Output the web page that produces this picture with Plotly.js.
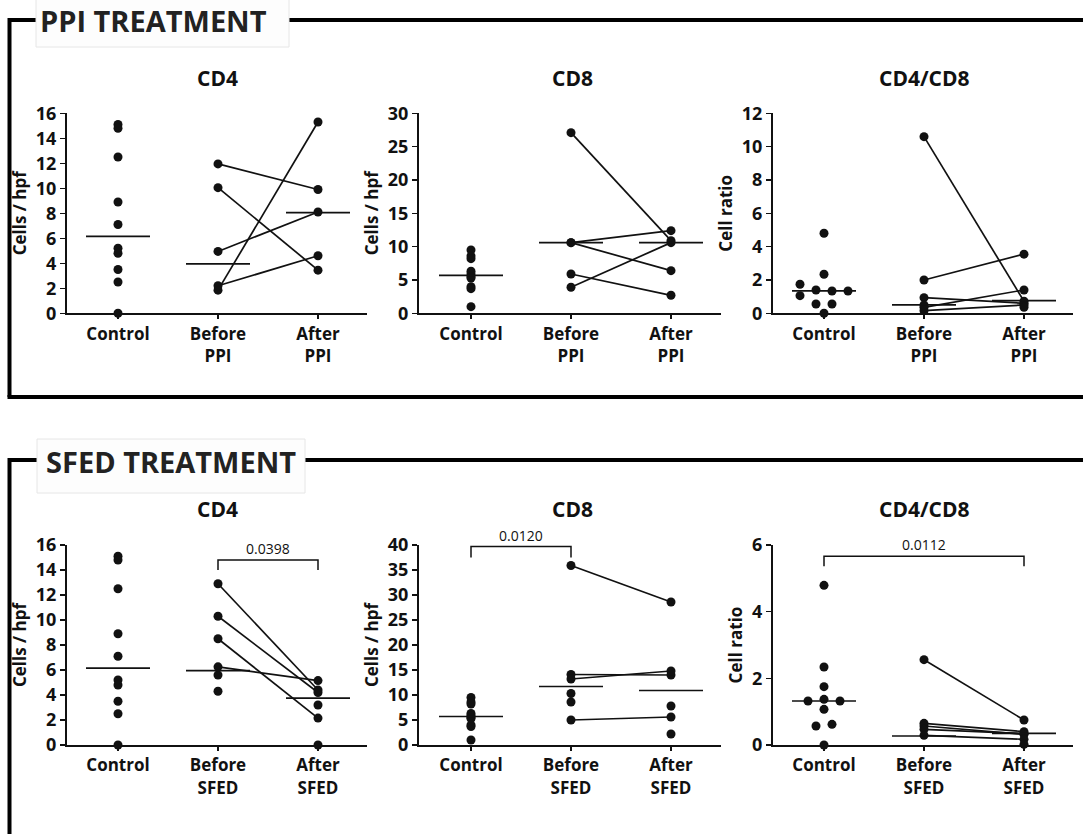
<!DOCTYPE html>
<html><head><meta charset="utf-8">
<script src="https://cdn.plot.ly/plotly-3.0.1.min.js"></script>
<style>html,body{margin:0;padding:0;background:#fff;}#chart{width:1083px;height:834px;}</style>
</head><body><div id="chart"></div>
<script>
// ---------- DATA ----------
const sectionTitles = ["PPI TREATMENT", "SFED TREATMENT"];
const panelTitles = ["CD4", "CD8", "CD4/CD8"];
const yTitles = ["Cells / hpf", "Cells / hpf", "Cell ratio"];
const ppiCategories = ["Control", "Before<br>PPI", "After<br>PPI"];
const sfedCategories = ["Control", "Before<br>SFED", "After<br>SFED"];

// shared controls
const cd4Control = [15.1, 14.8, 12.5, 8.9, 7.1, 5.2, 4.8, 3.5, 2.5, 0];
const cd8Control = [9.5, 8.6, 8.2, 6.3, 5.9, 5.5, 5.3, 4.0, 3.7, 1.0];

// PPI CD4
const ppiCd4Before = [11.95, 10.05, 4.95, 1.85, 2.2];
const ppiCd4After  = [9.9, 3.45, 8.1, 15.3, 4.6];
const ppiCd4Medians = [6.15, 3.95, 8.05];

// PPI CD8
const ppiCd8Before = [27.1, 10.6, 10.6, 5.9, 3.9];
const ppiCd8After  = [10.9, 12.4, 6.4, 2.7, 10.6];
const ppiCd8Medians = [5.7, 10.6, 10.6];

// PPI CD4/CD8
const ppiRatioControl = [4.8, 2.34, 1.74, 1.06, 1.4, 1.34, 1.34, 0.56, 0.56, 0];
const ppiRatioControlJitter = [0, 0, -0.24, -0.24, -0.08, 0.08, 0.24, -0.08, 0.08, 0];
const ppiRatioBefore = [10.6, 2.0, 0.94, 0.36, 0.16];
const ppiRatioAfter  = [0.72, 3.55, 0.6, 1.4, 0.5];
const ppiRatioBeforeExtra = [0.5];
const ppiRatioAfterExtra = [0.36];
const ppiRatioMedians = [1.34, 0.5, 0.76];

// SFED CD4
const sfedCd4Before = [12.9, 10.3, 8.5, 6.25];
const sfedCd4After  = [4.4, 4.2, 2.15, 5.15];
const sfedCd4BeforeExtra = [5.6, 4.3];
const sfedCd4AfterExtra = [3.2, 0];
const sfedCd4Medians = [6.15, 5.95, 3.75];

// SFED CD8
const sfedCd8Before = [35.9, 14.1, 13.2, 5.0];
const sfedCd8After  = [28.6, 14.0, 14.8, 5.6];
const sfedCd8BeforeExtra = [10.3, 8.6];
const sfedCd8AfterExtra = [7.8, 2.2];
const sfedCd8Medians = [5.7, 11.7, 10.9];

// SFED CD4/CD8
const sfedRatioControl = [4.79, 2.34, 1.75, 1.32, 1.37, 1.32, 1.07, 0.57, 0.62, 0];
const sfedRatioControlJitter = [0, 0, 0, -0.16, 0, 0.16, 0, -0.08, 0.08, 0];
const sfedRatioBefore = [2.56, 0.65, 0.57, 0.47, 0.29];
const sfedRatioAfter  = [0.75, 0.4, 0.32, 0.34, 0.17];
const sfedRatioAfterExtra = [0.02];
const sfedRatioMedians = [1.32, 0.27, 0.35];

// significance brackets: [fromCat, toCat, topValue, endValue, label]
const sfedCd4Bracket = [1, 2, 14.8, 14.0, "0.0398"];
const sfedCd8Bracket = [0, 1, 39.7, 37.5, "0.0120"];
const sfedRatioBracket = [0, 2, 5.66, 5.36, "0.0112"];

// axis ranges
const yRanges = [[0,16],[0,30],[0,12],[0,16],[0,40],[0,6]];
const yDticks = [2,5,2,2,5,2];

// ---------- BUILD ----------
const W = 1083, H = 834;
const px = v => v / W, py = v => 1 - v / H;
const FONT = "Open Sans, Noto Sans, sans-serif";
const INK = "#111";
const MEDIAN_HALF = 0.32;

const panels = [
  {cats: ppiCategories, control: cd4Control, before: ppiCd4Before, after: ppiCd4After, medians: ppiCd4Medians},
  {cats: ppiCategories, control: cd8Control, before: ppiCd8Before, after: ppiCd8After, medians: ppiCd8Medians},
  {cats: ppiCategories, control: ppiRatioControl, jitter: ppiRatioControlJitter, before: ppiRatioBefore, after: ppiRatioAfter,
   beforeExtra: ppiRatioBeforeExtra, afterExtra: ppiRatioAfterExtra, medians: ppiRatioMedians},
  {cats: sfedCategories, control: cd4Control, before: sfedCd4Before, after: sfedCd4After,
   beforeExtra: sfedCd4BeforeExtra, afterExtra: sfedCd4AfterExtra, medians: sfedCd4Medians, bracket: sfedCd4Bracket},
  {cats: sfedCategories, control: cd8Control, before: sfedCd8Before, after: sfedCd8After,
   beforeExtra: sfedCd8BeforeExtra, afterExtra: sfedCd8AfterExtra, medians: sfedCd8Medians, bracket: sfedCd8Bracket},
  {cats: sfedCategories, control: sfedRatioControl, jitter: sfedRatioControlJitter, before: sfedRatioBefore, after: sfedRatioAfter,
   afterExtra: sfedRatioAfterExtra, medians: sfedRatioMedians, bracket: sfedRatioBracket}
];

// pixel layout of plot areas
const xDomPx = [[67,367],[419,721],[773,1073]];
const xRanges = [[-0.51,2.49],[-0.52,2.5],[-0.51,2.49]];
const yDomPx = [[113.3,313.3],[545,745]];

const traces = [];
const layout = {
  width: W, height: H,
  margin: {l:0, r:0, t:0, b:0},
  paper_bgcolor: "#fff", plot_bgcolor: "rgba(0,0,0,0)",
  showlegend: false,
  font: {family: FONT, color: INK},
  shapes: [], annotations: []
};

const mk = {color: INK, size: 9};
const ln = {color: INK, width: 1.7};

panels.forEach((p, i) => {
  const n = i + 1;
  const xa = n === 1 ? "x" : "x" + n, ya = n === 1 ? "y" : "y" + n;
  const col = i % 3, row = Math.floor(i / 3);
  // control
  traces.push({type: "scatter", mode: "markers", xaxis: xa, yaxis: ya, cliponaxis: false,
    x: p.control.map((v, k) => 0 + (p.jitter ? p.jitter[k] : 0)), y: p.control, marker: mk, hoverinfo: "y"});
  // paired lines
  const px2 = [], py2 = [];
  p.before.forEach((b, k) => { px2.push(1, 2, null); py2.push(b, p.after[k], null); });
  traces.push({type: "scatter", mode: "lines+markers", xaxis: xa, yaxis: ya, cliponaxis: false,
    x: px2, y: py2, marker: mk, line: ln, connectgaps: false, hoverinfo: "y"});
  // unpaired
  const ex = [], ey = [];
  (p.beforeExtra || []).forEach(v => { ex.push(1); ey.push(v); });
  (p.afterExtra || []).forEach(v => { ex.push(2); ey.push(v); });
  if (ex.length) traces.push({type: "scatter", mode: "markers", xaxis: xa, yaxis: ya, cliponaxis: false,
    x: ex, y: ey, marker: mk, hoverinfo: "y"});
  // medians
  const mx = [], my = [];
  p.medians.forEach((m, c) => { mx.push(c - MEDIAN_HALF, c + MEDIAN_HALF, null); my.push(m, m, null); });
  traces.push({type: "scatter", mode: "lines", xaxis: xa, yaxis: ya, cliponaxis: false,
    x: mx, y: my, line: {color: INK, width: 1.7}, connectgaps: false, hoverinfo: "skip"});
  // bracket
  if (p.bracket) {
    const [f, t, top, end, lab] = p.bracket;
    traces.push({type: "scatter", mode: "lines", xaxis: xa, yaxis: ya, cliponaxis: false,
      x: [f, f, t, t], y: [end, top, top, end], line: {color: INK, width: 1.5}, hoverinfo: "skip"});
    layout.annotations.push({xref: xa, yref: ya, x: (f + t) / 2, y: top, text: lab, showarrow: false,
      yanchor: "bottom", yshift: 0, font: {family: FONT, size: 14, color: INK}});
  }
  // axes
  const xd = xDomPx[col], yd = yDomPx[row];
  layout["xaxis" + (n === 1 ? "" : n)] = {
    domain: [px(xd[0]), px(xd[1])], range: xRanges[col], anchor: ya,
    tickmode: "array", tickvals: [0, 1, 2], ticktext: p.cats,
    showline: true, linecolor: INK, linewidth: 2, ticks: "outside", ticklen: 4, tickwidth: 1.5, tickcolor: INK,
    showgrid: false, zeroline: false, fixedrange: true,
    tickfont: {family: FONT, size: 17, weight: "bold", color: INK}
  };
  layout["yaxis" + (n === 1 ? "" : n)] = {
    domain: [py(yd[1]), py(yd[0])], range: yRanges[i], anchor: xa, dtick: yDticks[i], tick0: 0,
    showline: true, linecolor: INK, linewidth: 2, ticks: "outside", ticklen: 5, tickwidth: 1.5, tickcolor: INK,
    showgrid: false, zeroline: false, fixedrange: true,
    tickfont: {family: FONT, size: 18, weight: "bold", color: INK},
    title: {text: yTitles[col], standoff: 5, font: {family: FONT, size: 17, weight: "bold", color: INK}}
  };
  // panel title
  const tc = [217, 572, 924][col], ty = [78, 509][row];
  layout.annotations.push({xref: "paper", yref: "paper", x: px(tc), y: py(ty), text: panelTitles[col],
    showarrow: false, xanchor: "center", yanchor: "middle", font: {family: FONT, size: 21, weight: "bold", color: INK}});
});

// section frames
const frameLine = {color: "#000", width: 4};
const seg = (x0, y0, x1, y1) => ({type: "line", xref: "paper", yref: "paper", x0: px(x0), y0: py(y0), x1: px(x1), y1: py(y1), line: frameLine});
layout.shapes.push(
  seg(9.5, 20, 36, 20), seg(289, 20, 1085, 20), seg(9.5, 18, 9.5, 397), seg(7.5, 397, 1085, 397),
  seg(9.5, 460, 37, 460), seg(305, 460, 1085, 460), seg(9.5, 458, 9.5, 836)
);
layout.shapes.push(
  {type: "rect", xref: "paper", yref: "paper", x0: px(36), x1: px(289), y0: py(-2), y1: py(47),
   fillcolor: "#fdfdfd", line: {color: "#e6e6e6", width: 1}},
  {type: "rect", xref: "paper", yref: "paper", x0: px(37), x1: px(305), y0: py(439), y1: py(493),
   fillcolor: "#fdfdfd", line: {color: "#e6e6e6", width: 1}}
);
layout.annotations.push(
  {xref: "paper", yref: "paper", x: px(153.5), y: py(21), text: sectionTitles[0], showarrow: false,
   xanchor: "center", yanchor: "middle", font: {family: FONT, size: 29, weight: "bold", color: "#222"}},
  {xref: "paper", yref: "paper", x: px(170.5), y: py(461), text: sectionTitles[1], showarrow: false,
   xanchor: "center", yanchor: "middle", font: {family: FONT, size: 29, weight: "bold", color: "#222"}}
);

Plotly.newPlot("chart", traces, layout, {displayModeBar: false, staticPlot: true});
</script></body></html>
